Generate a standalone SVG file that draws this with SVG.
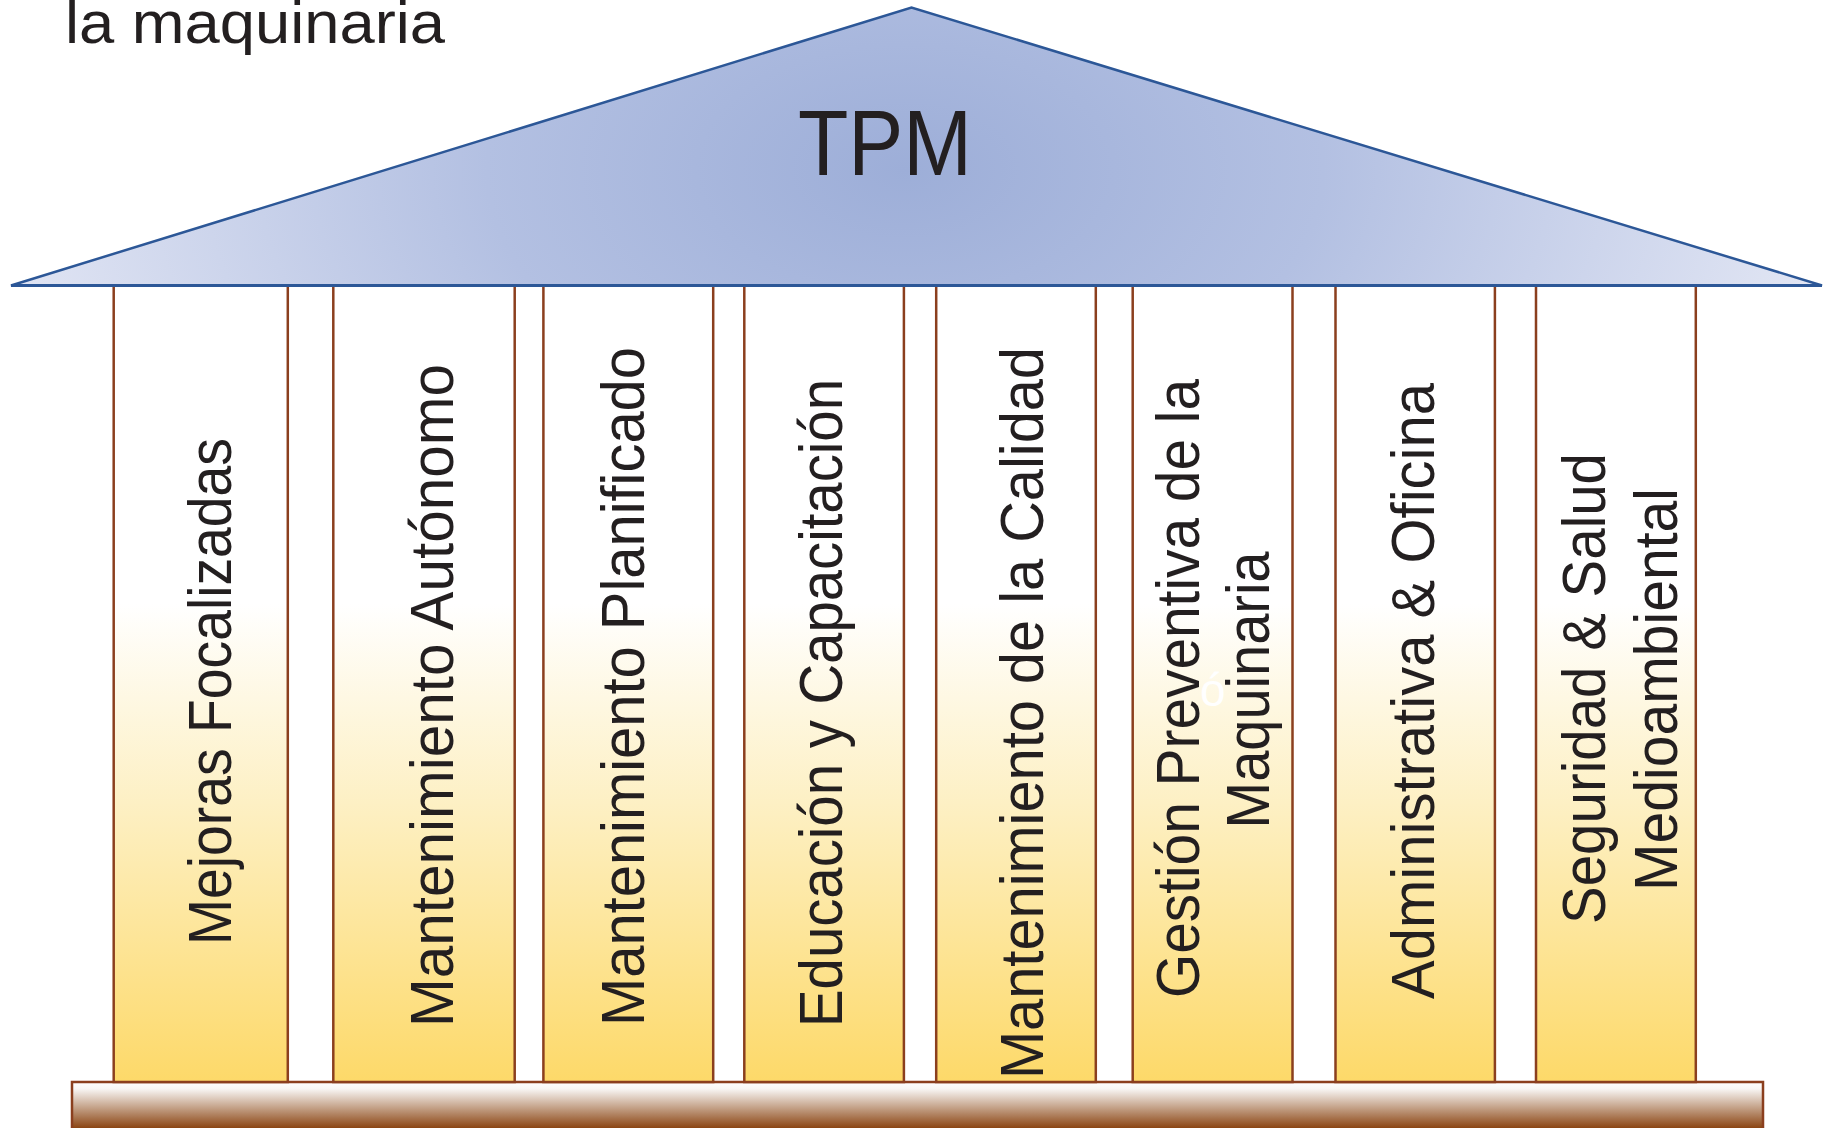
<svg xmlns="http://www.w3.org/2000/svg" width="1825" height="1128" viewBox="0 0 1825 1128">
<defs>
<radialGradient id="roofG" gradientUnits="userSpaceOnUse" cx="905" cy="170" r="930" gradientTransform="translate(905 170) scale(1 0.6) translate(-905 -170)">
<stop offset="0" stop-color="#9DAED8"/>
<stop offset="0.45" stop-color="#B3C0E2"/>
<stop offset="1" stop-color="#E2E6F4"/>
</radialGradient>
<linearGradient id="pilG" gradientUnits="userSpaceOnUse" x1="0" y1="285" x2="0" y2="1082">
<stop offset="0" stop-color="#FFFFFF"/>
<stop offset="0.40" stop-color="#FFFFFF"/>
<stop offset="0.65" stop-color="#FDF0C4"/>
<stop offset="1" stop-color="#FDD969"/>
</linearGradient>
<linearGradient id="baseG" gradientUnits="userSpaceOnUse" x1="0" y1="1082" x2="0" y2="1128">
<stop offset="0" stop-color="#FFFFFF"/>
<stop offset="0.15" stop-color="#F8F6F4"/>
<stop offset="1" stop-color="#8B4513"/>
</linearGradient>
</defs>
<style>
.pil{fill:url(#pilG);stroke:#8B3F1E;stroke-width:2.5}
.t{font-family:"Liberation Sans",Arial,sans-serif;fill:#231F20;font-size:61px}
</style>
<text class="t" x="65" y="43" font-size="60" textLength="380" lengthAdjust="spacingAndGlyphs" style="font-size:60px">la maquinaria</text>
<g id="base">
<rect x="72" y="1082" width="1691" height="50" fill="url(#baseG)" stroke="#8B3F1E" stroke-width="2.5"/>
</g>
<g id="p1"><rect class="pil" x="113.7" y="285" width="174.1" height="797"/>
<text class="t" transform="translate(231 945) rotate(-90)" textLength="507" lengthAdjust="spacingAndGlyphs">Mejoras Focalizadas</text></g>
<g id="p2"><rect class="pil" x="333.3" y="285" width="181.4" height="797"/>
<text class="t" transform="translate(453 1027) rotate(-90)" textLength="663" lengthAdjust="spacingAndGlyphs">Mantenimiento Autónomo</text></g>
<g id="p3"><rect class="pil" x="543.4" y="285" width="169.8" height="797"/>
<text class="t" transform="translate(644 1026) rotate(-90)" textLength="679" lengthAdjust="spacingAndGlyphs">Mantenimiento Planificado</text></g>
<g id="p4"><rect class="pil" x="744.3" y="285" width="159.6" height="797"/>
<text class="t" transform="translate(842 1027) rotate(-90)" textLength="648" lengthAdjust="spacingAndGlyphs">Educación y Capacitación</text></g>
<g id="p5"><rect class="pil" x="936.2" y="285" width="159.6" height="797"/>
<text class="t" transform="translate(1043 1079) rotate(-90)" textLength="732" lengthAdjust="spacingAndGlyphs">Mantenimiento de la Calidad</text></g>
<g id="p6"><rect class="pil" x="1132.7" y="285" width="159.8" height="797"/>
<text class="t" transform="translate(1199 998) rotate(-90)" textLength="619" lengthAdjust="spacingAndGlyphs">Gestión Preventiva de la</text>
<text class="t" transform="translate(1269 828.5) rotate(-90)" textLength="277" lengthAdjust="spacingAndGlyphs">Maquinaria</text>
<text x="1200" y="706" style="font-family:'Liberation Sans',Arial,sans-serif;font-size:46px;fill:#FFFFFF">ó</text></g>
<g id="p7"><rect class="pil" x="1335.5" y="285" width="159.4" height="797"/>
<text class="t" transform="translate(1434 999) rotate(-90)" textLength="616" lengthAdjust="spacingAndGlyphs">Administrativa &amp; Oficina</text></g>
<g id="p8"><rect class="pil" x="1536" y="285" width="159.8" height="797"/>
<text class="t" transform="translate(1605 924) rotate(-90)" textLength="471" lengthAdjust="spacingAndGlyphs">Seguridad &amp; Salud</text>
<text class="t" transform="translate(1677 891) rotate(-90)" textLength="403" lengthAdjust="spacingAndGlyphs">Medioambiental</text></g>
<g id="roof">
<polygon points="11,285.5 911.5,7.5 1822,285.5" fill="url(#roofG)" stroke="#2C5797" stroke-width="2.5" stroke-linejoin="miter"/>
<line x1="11" y1="285.5" x2="1822" y2="285.5" stroke="#2C5797" stroke-width="3"/>
<text x="798" y="175" textLength="174" lengthAdjust="spacingAndGlyphs" style="font-family:'Liberation Sans',Arial,sans-serif;font-size:93px;fill:#231F20">TPM</text>
</g>
</svg>
